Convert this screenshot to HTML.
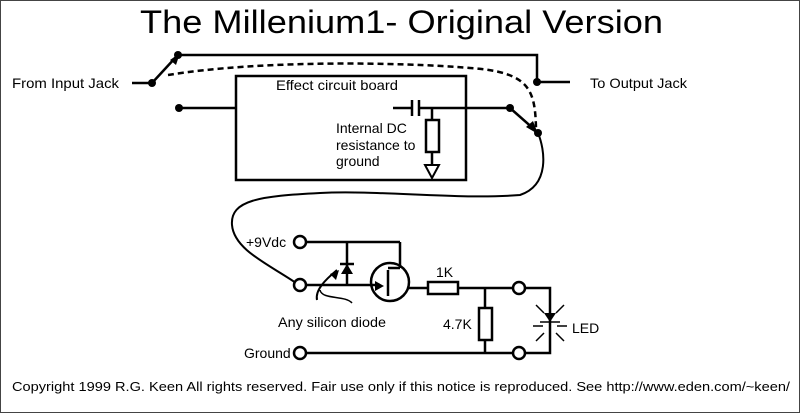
<!DOCTYPE html>
<html><head><meta charset="utf-8"><style>
html,body{margin:0;padding:0;background:#fff}
svg{display:block}
text{font-family:"Liberation Sans",sans-serif;fill:#000}
</style></head><body>
<svg width="800" height="413" viewBox="0 0 800 413" xmlns="http://www.w3.org/2000/svg">
<rect x="0.5" y="0.5" width="799" height="412" fill="#fff" stroke="#444"/>
<text x="140" y="33" font-size="32" textLength="523" lengthAdjust="spacingAndGlyphs">The Millenium1- Original Version</text>
<g stroke="#000" stroke-width="2.5" fill="none">
<line x1="132" y1="83" x2="152" y2="83"/>
<line x1="152" y1="83" x2="176" y2="57"/>
<polyline points="178,55 537,55 537,82 570,82"/>
<rect x="236" y="76" width="230" height="104"/>
<line x1="179" y1="108" x2="236" y2="108"/>
<line x1="393" y1="108" x2="412" y2="108"/>
<line x1="412" y1="100" x2="412" y2="116"/>
<line x1="419" y1="100" x2="419" y2="116"/>
<line x1="419" y1="108" x2="510" y2="108"/>
<line x1="432" y1="108" x2="432" y2="120"/>
<rect x="426" y="120" width="13" height="32"/>
<line x1="432" y1="152" x2="432" y2="165"/>
<polygon points="425,165 439,165 432,178" stroke-width="2"/>
<line x1="510" y1="108" x2="535" y2="130"/>
<path d="M168,75 C260,60 400,62 470,68 C530,72 535,90 536,128" stroke-dasharray="6,4"/>
<path d="M538,133 C545,150 550,185 520,195 C460,200 380,190 320,193 C260,196 230,200 232,225 C234,250 270,265 296,283" stroke-width="2"/>
<line x1="306" y1="242" x2="400" y2="242"/>
<line x1="400" y1="242" x2="400" y2="268"/>
<line x1="347" y1="242" x2="347" y2="285"/>
<line x1="306" y1="285" x2="380" y2="285"/>
<circle cx="390" cy="282" r="19"/>
<line x1="388" y1="270" x2="388" y2="296"/>
<line x1="388" y1="268" x2="400" y2="268"/>
<line x1="408" y1="288" x2="428" y2="288"/>
<rect x="428" y="282" width="30" height="12"/>
<line x1="458" y1="288" x2="513" y2="288"/>
<line x1="485" y1="288" x2="485" y2="308"/>
<rect x="479" y="308" width="13" height="32"/>
<line x1="485" y1="340" x2="485" y2="353"/>
<line x1="306" y1="353" x2="513" y2="353"/>
<polyline points="525,288 550,288 550,353 525,353"/>
<line x1="340" y1="264" x2="354" y2="264"/>
<path d="M317,300 C315,290 325,280 337,270" stroke-width="2"/>
<path d="M352,303 C345,295 322,300 320,290" stroke-width="1.5"/>
<circle cx="300" cy="242" r="6" fill="#fff"/>
<circle cx="300" cy="285" r="6" fill="#fff"/>
<circle cx="300" cy="353" r="6" fill="#fff"/>
<circle cx="519" cy="288" r="6" fill="#fff"/>
<circle cx="519" cy="353" r="6" fill="#fff"/>
<g stroke-width="1.5">
<line x1="536" y1="305" x2="544" y2="313"/><line x1="564" y1="305" x2="556" y2="313"/>
<line x1="533" y1="326" x2="543" y2="326"/><line x1="557" y1="326" x2="567" y2="326"/>
<line x1="536" y1="341" x2="544" y2="333"/><line x1="564" y1="341" x2="556" y2="333"/>
<line x1="540" y1="322" x2="560" y2="322"/>
</g>
</g>
<g fill="#000">
<circle cx="152" cy="83" r="4"/><circle cx="178" cy="55" r="4"/>
<circle cx="537" cy="82" r="4"/><circle cx="179" cy="108" r="4"/>
<circle cx="510" cy="108" r="4"/><circle cx="538" cy="133" r="4"/>
<polygon points="170,60 180,53 176,65"/>
<polygon points="538,134 526,127 533,121"/>
<polygon points="341,274 353,274 347,264"/>
<polygon points="339,270 330,274 336,280"/>
<polygon points="375,281 375,291 384,286"/>
<polygon points="544,313 556,313 550,322"/>
</g>
<g font-size="14">
<text x="12" y="88" textLength="107" lengthAdjust="spacingAndGlyphs">From Input Jack</text>
<text x="590" y="88" textLength="97" lengthAdjust="spacingAndGlyphs">To Output Jack</text>
<text x="276" y="90" textLength="122" lengthAdjust="spacingAndGlyphs">Effect circuit board</text>
<text x="336" y="133">Internal DC</text>
<text x="336" y="150">resistance to</text>
<text x="336" y="166">ground</text>
<text x="246" y="247">+9Vdc</text>
<text x="436" y="277">1K</text>
<text x="443" y="329">4.7K</text>
<text x="572" y="333">LED</text>
<text x="278" y="327" textLength="108" lengthAdjust="spacingAndGlyphs">Any silicon diode</text>
<text x="244" y="358">Ground</text>
<text x="12" y="391" font-size="13" textLength="778" lengthAdjust="spacingAndGlyphs">Copyright 1999 R.G. Keen All rights reserved. Fair use only if this notice is reproduced.  See http://www.eden.com/~keen/</text>
</g>
</svg>
</body></html>
